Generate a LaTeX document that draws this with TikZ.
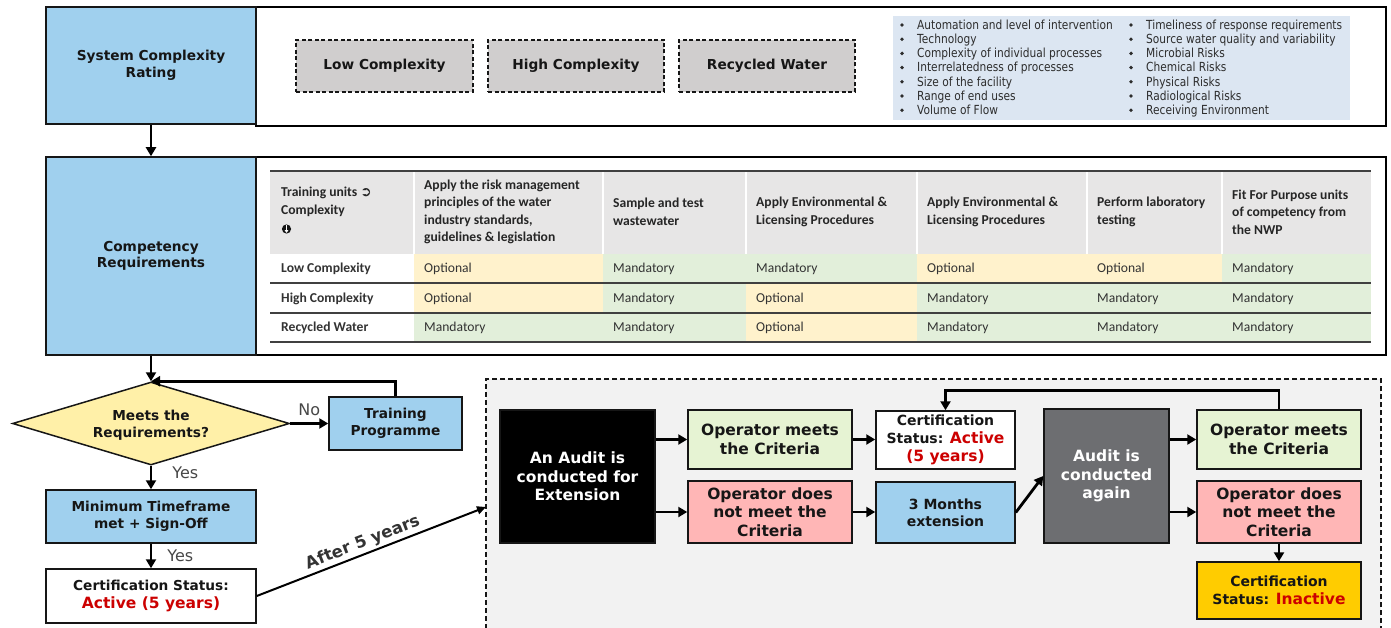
\documentclass[tikz,border=0pt]{standalone}
\usepackage{fontspec}
\setmainfont{DejaVu Sans}
\newfontfamily\tabfont{Carlito}
\newfontfamily\listfont[FakeStretch=0.85]{DejaVu Sans}
\newfontfamily\symfont{DejaVu Sans}
\usetikzlibrary{arrows.meta,shapes.geometric,calc}

\definecolor{skyfill}{RGB}{160,208,238}
\definecolor{greyfill}{RGB}{208,206,206}
\definecolor{listfill}{RGB}{220,230,242}
\definecolor{headfill}{RGB}{231,230,230}
\definecolor{optcell}{RGB}{255,242,204}
\definecolor{mancell}{RGB}{226,239,218}
\definecolor{decfill}{RGB}{255,240,168}
\definecolor{panelfill}{RGB}{242,242,242}
\definecolor{okfill}{RGB}{230,243,211}
\definecolor{failfill}{RGB}{255,182,182}
\definecolor{againfill}{RGB}{109,110,113}
\definecolor{warnfill}{RGB}{255,204,0}
\definecolor{alert}{RGB}{204,0,0}
\definecolor{ink}{RGB}{22,22,22}
\definecolor{rule}{RGB}{64,64,64}
\definecolor{listink}{RGB}{45,45,45}

\newcommand{\hot}[1]{\textcolor{alert}{#1}}

\tikzset{
  sz/.style 2 args={minimum width=#1, minimum height=#2},
  box/.style={draw=ink, line width=1.5pt, align=center, inner sep=0pt, text=ink,
    font=\bfseries\fontsize{13.7}{16.5}\selectfont},
  skybox/.style={box, fill=skyfill},
  panel/.style={draw=black, line width=2.2pt, fill=white, inner sep=0pt},
  tag/.style={box, fill=greyfill, dash pattern=on 4pt off 2.5pt},
  stepbox/.style={box, font=\bfseries\fontsize{15.5}{18.5}\selectfont},
  flow/.style={line width=2.8pt, -{Triangle[length=9pt,width=10pt]}},
  lbl/.style={inner sep=0pt, font=\fontsize{16}{18}\selectfont, text=black!72},
  listitem/.style={anchor=base west, inner sep=0pt, text=listink,
    font=\listfont\fontsize{12.5}{14}\selectfont},
  headtext/.style={anchor=west, inner sep=0pt, align=left, text=black!85,
    font=\tabfont\bfseries\fontsize{13.6}{17.5}\selectfont},
  celltext/.style={anchor=west, inner sep=0pt, text=black!80,
    font=\tabfont\fontsize{13.6}{15}\selectfont},
  rowtext/.style={celltext, font=\tabfont\bfseries\fontsize{13.6}{15}\selectfont}
}

\begin{document}
\begin{tikzpicture}[x=1pt,y=-1pt]
\useasboundingbox (0,0) rectangle (1391,628);

% ---------- system complexity rating ----------
\node[panel, sz={1130}{119}] (ratepanel) at (821,66.5) {};
\node[skybox, sz={210}{117}] (rate) at (151,65.5) {System Complexity\\Rating};
\node[tag, sz={177}{52}] (lowc) at (384.5,66) {Low Complexity};
\node[tag, sz={176}{52}] (highc) at (576,66) {High Complexity};
\node[tag, sz={176}{52}] (recw) at (767,66) {Recycled Water};

\fill[listfill] (893,16) rectangle (1350,120);
\foreach \t [count=\i from 0] in {Automation and level of intervention, Technology,
    Complexity of individual processes, Interrelatedness of processes,
    Size of the facility, Range of end uses, Volume of Flow}{
  \fill[listink] (902,{25+14.2*\i}) circle (1.9);
  \node[listitem] (la\i) at (917,{29.3+14.2*\i}) {\t};
}
\foreach \t [count=\i from 0] in {Timeliness of response requirements,
    Source water quality and variability, Microbial Risks, Chemical Risks,
    Physical Risks, Radiological Risks, Receiving Environment}{
  \fill[listink] (1131,{25+14.2*\i}) circle (1.9);
  \node[listitem] (lb\i) at (1146,{29.3+14.2*\i}) {\t};
}

% ---------- competency requirements ----------
\node[panel, sz={1130}{198}] (reqpanel) at (821,256) {};
\node[skybox, sz={210}{198}] (req) at (151,256) {Competency\\Requirements};

% table header
\fill[headfill] (270,171) rectangle (1371,254);
\foreach \x in {414,603,746,917,1087,1222}
  \draw[white, line width=1.2pt] (\x,171) -- (\x,254);
\node[headtext] (h0) at (281,212) {Training units {\symfont ➲}\\Complexity\\\strut};
\fill[ink] (286.5,229) circle (4.6);
\draw[white, line width=1.3pt, -{Triangle[length=2.6pt,width=3.6pt]}] (286.5,225.5) -- (286.5,232.8);
\node[headtext] (h1) at (424,212) {Apply the risk management\\principles of the water\\industry standards,\\guidelines \& legislation};
\node[headtext] (h2) at (613,212) {Sample and test\\wastewater};
\node[headtext] (h3) at (756,212) {Apply Environmental \&\\Licensing Procedures};
\node[headtext] (h4) at (927,212) {Apply Environmental \&\\Licensing Procedures};
\node[headtext] (h5) at (1097,212) {Perform laboratory\\testing};
\node[headtext] (h6) at (1232,212) {Fit For Purpose units\\of competency from\\the NWP};

% table body
\foreach \xa/\xb/\k/\v [count=\j] in {414/603/optcell/Optional, 603/746/mancell/Mandatory,
    746/917/mancell/Mandatory, 917/1087/optcell/Optional, 1087/1222/optcell/Optional,
    1222/1371/mancell/Mandatory}{
  \fill[\k] (\xa,254) rectangle (\xb,283);
  \node[celltext] (ra\j) at (\xa+10,269) {\v};
}
\foreach \xa/\xb/\k/\v [count=\j] in {414/603/optcell/Optional, 603/746/mancell/Mandatory,
    746/917/optcell/Optional, 917/1087/mancell/Mandatory, 1087/1222/mancell/Mandatory,
    1222/1371/mancell/Mandatory}{
  \fill[\k] (\xa,283) rectangle (\xb,313);
  \node[celltext] (rb\j) at (\xa+10,298.5) {\v};
}
\foreach \xa/\xb/\k/\v [count=\j] in {414/603/mancell/Mandatory, 603/746/mancell/Mandatory,
    746/917/optcell/Optional, 917/1087/mancell/Mandatory, 1087/1222/mancell/Mandatory,
    1222/1371/mancell/Mandatory}{
  \fill[\k] (\xa,313) rectangle (\xb,342);
  \node[celltext] (rc\j) at (\xa+10,328) {\v};
}
\node[rowtext] (lowrow) at (281,269) {Low Complexity};
\node[rowtext] (highrow) at (281,298.5) {High Complexity};
\node[rowtext] (recrow) at (281,328) {Recycled Water};
\foreach \y in {171,283,313,342}
  \draw[rule, line width=1.4pt] (270,\y) -- (1371,\y);

% ---------- certification flow ----------
\node[diamond, draw=ink, line width=1.5pt, fill=decfill, aspect=3.3, inner sep=0pt,
  minimum width=277, minimum height=83, align=center, text=ink,
  font=\bfseries\fontsize{13.7}{16.5}\selectfont] (meets) at (151,423.5) {\\[-3pt]Meets the\\Requirements?};
\node[skybox, sz={133}{53}] (train) at (395.5,423.5) {Training\\Programme};
\node[skybox, sz={210}{53}] (mintf) at (151,516.5) {Minimum Timeframe\\met + Sign-Off};
\node[box, fill=white, sz={210}{54}] (cert) at (151,596)
  {Certification Status:\\[1pt]{\fontsize{15.5}{18}\selectfont\hot{Active (5 years)}}};

\draw[flow] (rate) -- (req);
\draw[flow] (req) -- (meets);
\draw[flow] (meets.east) -- node[lbl, above=6pt, pos=0.5] {No} (train.west);
\draw[flow] (train.north) |- (meets.north);
\draw[flow] (meets.south) -- node[lbl, right=20pt, pos=0.3] {Yes} (mintf.north);
\draw[flow] (mintf.south) -- node[lbl, right=15pt, pos=0.5] {Yes} (cert.north);

% ---------- audit panel ----------
\node[draw=ink, line width=1.2pt, dash pattern=on 5pt off 3pt, fill=panelfill,
  sz={895}{261}, inner sep=0pt] (audpanel) at (933.5,509.5) {};
\coordinate (entry) at (486,507);
\draw[line width=2pt, -{Triangle[length=9pt,width=8pt]}] (cert.east) --
  node[sloped, above=2pt, pos=0.48, inner sep=0pt, text=black!80,
       font=\bfseries\fontsize{16.5}{18}\selectfont] {After 5 years} (entry);

\node[stepbox, fill=black, text=white, sz={155}{133}] (audit) at (577.5,476.5)
  {An Audit is\\conducted for\\Extension};
\node[stepbox, fill=okfill, sz={164}{59}] (ok1) at (770,439.5) {Operator meets\\the Criteria};
\node[stepbox, fill=failfill, sz={164}{62}] (fail1) at (770,512) {Operator does\\not meet the\\Criteria};
\node[box, fill=white, sz={139}{58}, font=\bfseries\fontsize{14}{18}\selectfont] (active2) at (945.5,440)
  {Certification\\Status: {\fontsize{15.5}{18}\selectfont\hot{Active}}\\{\fontsize{15.5}{18}\selectfont\hot{(5 years)}}};
\node[box, fill=skyfill, sz={139}{61}, font=\bfseries\fontsize{14}{17}\selectfont] (ext) at (945.5,512.5)
  {3 Months\\extension};
\node[stepbox, fill=againfill, text=white, sz={125}{134}] (again) at (1106.5,476)
  {Audit is\\conducted\\again};
\node[stepbox, fill=okfill, sz={164}{59}] (ok2) at (1279,439.5) {Operator meets\\the Criteria};
\node[stepbox, fill=failfill, sz={164}{62}] (fail2) at (1279,512) {Operator does\\not meet the\\Criteria};
\node[box, fill=warnfill, sz={164}{57}, font=\bfseries\fontsize{14}{18}\selectfont] (inactive) at (1279,590.5)
  {Certification\\Status: {\fontsize{15.5}{18}\selectfont\hot{Inactive}}};

\draw[flow] (audit.east |- ok1.west) -- (ok1.west);
\draw[flow] (audit.east |- fail1.west) -- (fail1.west);
\draw[flow] (ok1.east) -- (ok1.east -| active2.west);
\draw[flow] (fail1.east) -- (fail1.east -| ext.west);
\draw[flow] (ext.east) -- (again.west);
\draw[flow] (again.east |- ok2.west) -- (ok2.west);
\draw[flow] (again.east |- fail2.west) -- (fail2.west);
\draw[flow] (ok2.north) -- ++(0,-19) -| (active2.north);
\draw[flow] (fail2.south) -- (inactive.north);
\end{tikzpicture}
\end{document}
